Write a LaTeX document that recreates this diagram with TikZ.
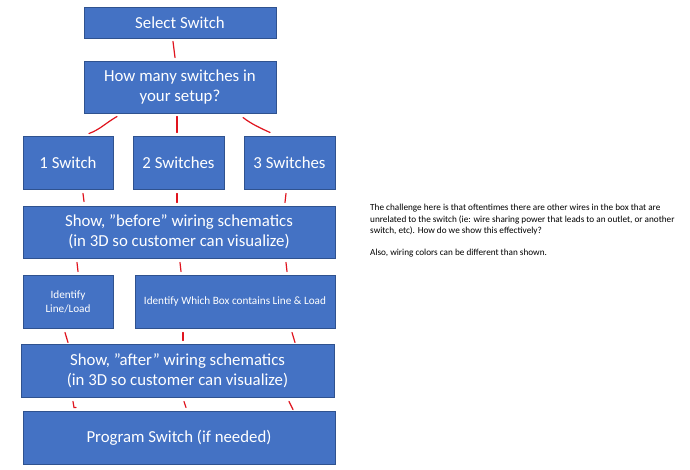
\documentclass[tikz,border=0pt]{standalone}
\usepackage{fontspec}
\setmainfont{Carlito}
\usetikzlibrary{calc}
\definecolor{boxfill}{HTML}{4472C4}
\definecolor{boxedge}{HTML}{2F528F}
\definecolor{mark}{HTML}{E0141E}
\tikzset{
  flowbox/.style={draw=boxedge, line width=1pt, fill=boxfill, text=white, align=center, inner sep=0pt, font=\fontsize{16.8}{20}\selectfont},
  smallbox/.style={flowbox, font=\fontsize{11.2}{14}\selectfont},
  conn/.style={draw=mark, line width=1.2pt, line cap=round},
}
\begin{document}
\begin{tikzpicture}[x=1pt,y=-1pt]
\useasboundingbox (0,0) rectangle (690,469);
\fill[white] (0,0) rectangle (690,469);
\node[flowbox, minimum width=192, minimum height=31] (sel) at (180,22.5) {Select Switch};
\node[flowbox, minimum width=192, minimum height=52] (how) at (180,87) {How many switches in\\your setup?};
\node[flowbox, minimum width=90, minimum height=53] (s1) at (68,162.5) {1 Switch};
\node[flowbox, minimum width=91, minimum height=53] (s2) at (178.5,162.5) {2 Switches};
\node[flowbox, minimum width=91, minimum height=53] (s3) at (289.5,162.5) {3 Switches};
\node[flowbox, minimum width=312, minimum height=52] (before) at (179,232) {Show, ”before” wiring schematics\\(in 3D so customer can visualize)};
\node[smallbox, minimum width=90, minimum height=53] (idl) at (68,301.5) {Identify\\Line/Load};
\node[smallbox, minimum width=200, minimum height=53] (idb) at (235,301.5) {Identify Which Box contains Line \& Load};
\node[flowbox, minimum width=313, minimum height=53] (after) at (177.5,370.5) {Show, ”after” wiring schematics\\(in 3D so customer can visualize)};
\node[flowbox, minimum width=312, minimum height=53] (prog) at (179,437.5) {Program Switch (if needed)};

\node[anchor=north west, align=left, inner sep=0pt, text=black, font=\fontsize{9.2}{11.2}\selectfont] (note) at (370,204.3)
{The challenge here is that oftentimes there are other wires in the box that are\\
unrelated to the switch (ie: wire sharing power that leads to an outlet, or another\\
switch, etc). How do we show this effectively?\\[11.2pt]
Also, wiring colors can be different than shown.};

\draw[conn] ($(sel.south)+(-7,3)$) -- ($(how.north)+(-5,-3)$);
\draw[conn] ($(how.south)+(-63,3)$) .. controls ($(how.south)+(-75,10)$) and ($(s1.north)+(32,-6)$) .. ($(s1.north)+(21,-2)$);
\draw[conn] ($(how.south)+(-3,3)$) -- ($(s2.north)+(-1.5,-3)$);
\draw[conn] ($(how.south)+(63,4)$) .. controls ($(how.south)+(72,11)$) and ($(s3.north)+(-28,-7)$) .. ($(s3.north)+(-19.5,-3)$);
\draw[conn] ($(s1.south)+(15,4)$) -- ($(before.north)+(-95,-4)$);
\draw[conn] ($(s2.south)+(-1.5,4)$) -- ($(before.north)+(-2,-3)$);
\draw[conn] ($(s3.south)+(-3.5,4)$) -- ($(before.north)+(106,-3)$);
\draw[conn] ($(before.south)+(-102,4)$) -- ($(idl.north)+(10,-3)$);
\draw[conn] ($(before.south)+(1,4)$) -- ($(idb.north)+(-54,-3)$);
\draw[conn] ($(before.south)+(107,4)$) -- ($(idb.north)+(52,-3)$);
\draw[conn] ($(idl.south)+(-3,4)$) -- ($(after.north)+(-109.5,-1)$);
\draw[conn] ($(idb.south)+(-52,4)$) -- ($(after.north)+(5.5,-3)$);
\draw[conn] ($(idb.south)+(57,4)$) -- ($(after.north)+(117.5,-1)$);
\draw[conn] ($(after.south)+(-104.5,4)$) -- ($(prog.north)+(-105,-3)$) -- ($(prog.north)+(-103,-3)$);
\draw[conn] ($(after.south)+(6.5,4)$) -- ($(prog.north)+(7,-3)$);
\draw[conn] ($(after.south)+(111.5,4)$) -- ($(prog.north)+(114,-1)$);
\end{tikzpicture}
\end{document}
